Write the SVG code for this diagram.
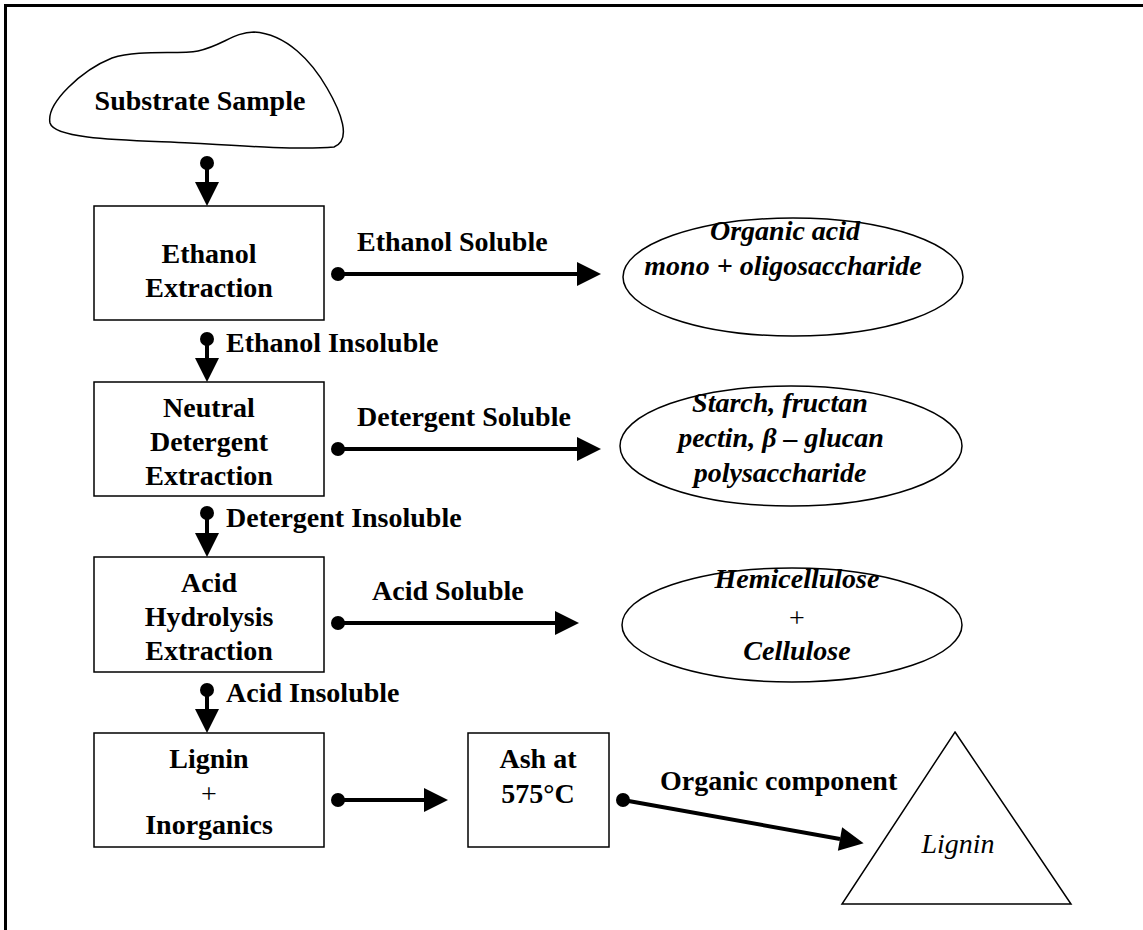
<svg xmlns="http://www.w3.org/2000/svg" width="1143" height="930" viewBox="0 0 1143 930">
<style>
.t{font-family:"Liberation Serif","Times New Roman",serif;font-size:28px;font-weight:bold;fill:#000;text-anchor:middle}
.l{text-anchor:start}
.bi{font-style:italic}
.pl{font-weight:normal}
.box{fill:#fff;stroke:#000;stroke-width:1.5}
.con{stroke:#000;stroke-width:4;fill:none;marker-start:url(#dot);marker-end:url(#ah)}
</style>
<defs>
<marker id="ah" markerUnits="userSpaceOnUse" markerWidth="26" markerHeight="26" refX="0" refY="12" orient="auto" overflow="visible"><path d="M0,0 L24,12 L0,24 Z" fill="#000"/></marker>
<marker id="dot" markerUnits="userSpaceOnUse" markerWidth="16" markerHeight="16" refX="8" refY="8" overflow="visible"><circle cx="8" cy="8" r="7" fill="#000"/></marker>
</defs>
<rect x="0" y="0" width="1143" height="930" fill="#fff"/>
<rect x="5.5" y="5.5" width="1160" height="960" fill="none" stroke="#000" stroke-width="3"/>

<g id="substrate">
<path class="box" d="M50,123 C46,103 82,70 112,58 C140,49 178,55 198,51 C222,46 234,32 254,32 C287,34 312,62 327,88 C341,112 352,140 334,147 C300,150 240,146 190,143 C130,140 55,140 50,123 Z"/>
<text class="t" x="200" y="110">Substrate Sample</text>
</g>

<g id="ethanol">
<rect class="box" x="94" y="206" width="230" height="114"/>
<text class="t" x="209" y="263">Ethanol</text>
<text class="t" x="209" y="297">Extraction</text>
</g>

<g id="neutral">
<rect class="box" x="94" y="382" width="230" height="114"/>
<text class="t" x="209" y="417">Neutral</text>
<text class="t" x="209" y="451">Detergent</text>
<text class="t" x="209" y="485">Extraction</text>
</g>

<g id="acid">
<rect class="box" x="94" y="557" width="230" height="115"/>
<text class="t" x="209" y="592">Acid</text>
<text class="t" x="209" y="626">Hydrolysis</text>
<text class="t" x="209" y="660">Extraction</text>
</g>

<g id="lignin-inorganics">
<rect class="box" x="94" y="733" width="230" height="114"/>
<text class="t" x="209" y="768">Lignin</text>
<text class="t pl" x="209" y="803">+</text>
<text class="t" x="209" y="834">Inorganics</text>
</g>

<g id="ash">
<rect class="box" x="468" y="733" width="141" height="114"/>
<text class="t" x="538" y="768">Ash at</text>
<text class="t" x="538" y="803">575°C</text>
</g>

<g id="organic-acid">
<ellipse class="box" cx="793" cy="277" rx="170" ry="59"/>
<text class="t bi" x="785" y="240">Organic acid</text>
<text class="t bi" x="783" y="275">mono + oligosaccharide</text>
</g>

<g id="starch">
<ellipse class="box" cx="791" cy="446" rx="171" ry="60"/>
<text class="t bi" x="780" y="412">Starch, fructan</text>
<text class="t bi" x="781" y="447">pectin, β – glucan</text>
<text class="t bi" x="780" y="482">polysaccharide</text>
</g>

<g id="hemicellulose">
<ellipse class="box" cx="792" cy="625" rx="170" ry="57"/>
<text class="t bi" x="797" y="588">Hemicellulose</text>
<text class="t pl" x="797" y="627">+</text>
<text class="t bi" x="797" y="660">Cellulose</text>
</g>

<g id="lignin">
<path class="box" d="M955,732 L1071,904 L842,904 Z"/>
<text class="t bi pl" x="958" y="853">Lignin</text>
</g>

<g id="connectors">
<line class="con" x1="207" y1="163" x2="207" y2="182"/>
<line class="con" x1="207" y1="339" x2="207" y2="358"/>
<line class="con" x1="207" y1="513" x2="207" y2="533"/>
<line class="con" x1="207" y1="690" x2="207" y2="709"/>
<line class="con" x1="338" y1="274" x2="577" y2="274"/>
<line class="con" x1="338" y1="449" x2="577" y2="449"/>
<line class="con" x1="338" y1="623" x2="555" y2="623"/>
<line class="con" x1="338" y1="800" x2="424" y2="800"/>
<line class="con" x1="623" y1="800" x2="840" y2="839"/>
</g>

<g id="labels">
<text class="t l" x="357" y="251">Ethanol Soluble</text>
<text class="t l" x="226" y="352">Ethanol Insoluble</text>
<text class="t l" x="357" y="426">Detergent Soluble</text>
<text class="t l" x="226" y="527">Detergent Insoluble</text>
<text class="t l" x="372" y="600">Acid Soluble</text>
<text class="t l" x="226" y="702">Acid Insoluble</text>
<text class="t l" x="660" y="790">Organic component</text>
</g>
</svg>
